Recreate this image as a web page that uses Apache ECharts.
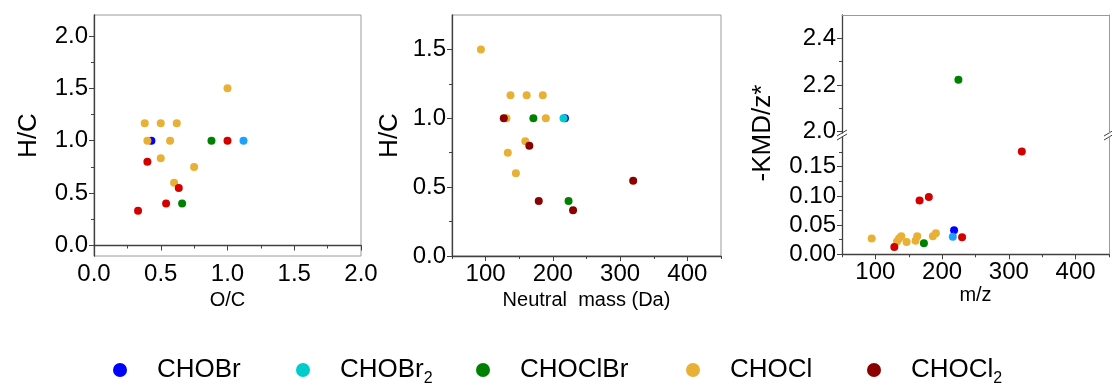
<!DOCTYPE html>
<html>
<head>
<meta charset="utf-8">
<script src="https://cdn.jsdelivr.net/npm/echarts@6/dist/echarts.min.js"></script>
<style>html,body{margin:0;padding:0;background:#fff}#c{width:1112px;height:385px}</style>
</head>
<body>
<div id="c"></div>
<script>
// ---- data ----
const groups = ['CHOBr', 'CHOBr2', 'CHOClBr', 'CHOCl', 'CHOCl2'];
const legendLabels = ['{n|CHOBr}', '{n|CHOBr}{s|2}', '{n|CHOClBr}', '{n|CHOCl}', '{n|CHOCl}{s|2}'];

// panel 1: O/C vs H/C
const vk_CHOBr   = [[0.43, 1.0]];
const vk_CHOBr2  = [[1.12, 1.0]];
const vk_CHOClBr = [[0.88, 1.0], [0.66, 0.40]];
const vk_CHOCl   = [[1.0, 1.5], [0.38, 1.167], [0.5, 1.167], [0.62, 1.167], [0.40, 1.0], [0.57, 1.0], [0.5, 0.833], [0.75, 0.75], [0.60, 0.60]];
const vk_CHOCl2  = [[1.0, 1.0], [0.40, 0.80], [0.635, 0.55], [0.54, 0.40], [0.33, 0.333]];

// panel 2: neutral mass vs H/C
const nm_CHOBr   = [[217.9, 1.0]];
const nm_CHOBr2  = [[215.8, 1.0]];
const nm_CHOClBr = [[171, 1.0], [223.3, 0.40]];
const nm_CHOCl   = [[93, 1.5], [137, 1.167], [161, 1.167], [185, 1.167], [131, 1.0], [189.5, 1.0], [159, 0.833], [133, 0.75], [145, 0.60]];
const nm_CHOCl2  = [[127, 1.0], [165, 0.80], [179, 0.40], [230, 0.333], [319.4, 0.546]];

// panel 3: m/z vs -KMD/z*
const km_CHOBr   = [[217.9, 0.041]];
const km_CHOBr2  = [[216, 0.030]];
const km_CHOClBr = [[172.7, 0.019], [224.4, 2.223]];
const km_CHOCl   = [[94.5, 0.027], [132.4, 0.022], [135.4, 0.027], [138.8, 0.031], [146.8, 0.021], [160.2, 0.023], [162.7, 0.031], [186.1, 0.031], [190.6, 0.036]];
const km_CHOCl2  = [[128.4, 0.0125], [166.2, 0.092], [180.1, 0.098], [229.9, 0.029], [319.4, 0.176]];

// tick values
const p1Ticks = [0, 0.5, 1.0, 1.5, 2.0];
const p1Minor = [0.25, 0.75, 1.25, 1.75];
const p2yTicks = [0, 0.5, 1.0, 1.5];
const p2yMinor = [0.25, 0.75, 1.25];
const massTicks = [100, 200, 300, 400];
const massMinor = [50, 150, 250, 350, 450];
const kmdUpperTicks = [2.0, 2.2, 2.4];
const kmdUpperMinor = [2.1, 2.3];
const kmdLowerTicks = [0, 0.05, 0.10, 0.15];
const kmdLowerMinor = [0.025, 0.075, 0.125, 0.175];

// ---- style ----
const colorsLegend = ['#0000ff', '#00cccc', '#008000', '#e8b035', '#8b0000'];
const colorsAlt    = ['#0000ff', '#1ea0ff', '#008000', '#e8b035', '#d40000'];
const FONT = 'Liberation Sans, Arial, sans-serif';
const AX = '#404040';
const BORDER = '#9a9a9a';
const labelStyle = {color: '#000', fontSize: 24, fontFamily: FONT};

const vk = [vk_CHOBr, vk_CHOBr2, vk_CHOClBr, vk_CHOCl, vk_CHOCl2];
const nm = [nm_CHOBr, nm_CHOBr2, nm_CHOClBr, nm_CHOCl, nm_CHOCl2];
const km = [km_CHOBr, km_CHOBr2, km_CHOClBr, km_CHOCl, km_CHOCl2];

const grid = [
  {left: 94, top: 15, width: 267, height: 241, show: true, borderColor: BORDER, borderWidth: 1},
  {left: 452, top: 15, width: 269, height: 241, show: true, borderColor: BORDER, borderWidth: 1},
  {left: 842, top: 15, width: 267, height: 118},
  {left: 842, top: 137, width: 267, height: 117.3}
];

const line = {show: true, lineStyle: {color: AX, width: 1.3}};
const borderLine = {show: true, lineStyle: {color: BORDER, width: 1}};
const tick = (len, vals) => ({show: true, inside: false, length: len, customValues: vals, lineStyle: {color: AX, width: 1}});
const nameX = {fontSize: 20, fontFamily: FONT, color: '#000'};
const nameY = {fontSize: 26, fontFamily: FONT, color: '#000'};
const fmt = d => (v => v.toFixed(d));

function mainX(grid, min, max, ticks, d, name, gap) {
  return {gridIndex: grid, type: 'value', position: 'bottom', min, max, axisLine: line, axisTick: tick(5, ticks),
    splitLine: {show: false}, axisLabel: Object.assign({margin: 6, customValues: ticks, formatter: fmt(d)}, labelStyle),
    name, nameLocation: 'middle', nameGap: gap, nameTextStyle: nameX};
}
function minorX(grid, min, max, ticks) {
  return {gridIndex: grid, type: 'value', position: 'bottom', min, max, axisLine: {show: false}, axisTick: tick(3, ticks),
    splitLine: {show: false}, axisLabel: {show: false}};
}
function mainY(grid, min, max, ticks, d, name, gap) {
  const a = {gridIndex: grid, type: 'value', position: 'left', min, max, axisLine: line, axisTick: tick(5, ticks),
    splitLine: {show: false}, axisLabel: Object.assign({margin: 6, customValues: ticks, formatter: fmt(d)}, labelStyle)};
  if (name) Object.assign(a, {name, nameLocation: 'middle', nameGap: gap, nameTextStyle: nameY});
  return a;
}
function minorY(grid, min, max, ticks) {
  return {gridIndex: grid, type: 'value', position: 'left', min, max, axisLine: {show: false}, axisTick: tick(3, ticks),
    splitLine: {show: false}, axisLabel: {show: false}};
}

const xAxis = [
  mainX(0, 0, 2, p1Ticks, 1, 'O/C', 28),                       // 0
  minorX(0, 0, 2, p1Minor),                                     // 1
  mainX(1, 50, 450, massTicks, 0, 'Neutral  mass (Da)', 28),   // 2
  minorX(1, 50, 450, massMinor),                                // 3
  {gridIndex: 2, type: 'value', position: 'top', min: 50, max: 450, axisLine: borderLine, axisTick: {show: false},
   splitLine: {show: false}, axisLabel: {show: false}},         // 4
  mainX(3, 50, 450, massTicks, 0, 'm/z', 29),                  // 5
  minorX(3, 50, 450, massMinor)                                 // 6
];

const yAxis = [
  mainY(0, -0.1, 2.2, p1Ticks, 1, 'H/C', 52),                  // 0
  minorY(0, -0.1, 2.2, p1Minor),                                // 1
  mainY(1, 0, 1.75, p2yTicks, 1, 'H/C', 49),                   // 2
  minorY(1, 0, 1.75, p2yMinor),                                 // 3
  mainY(2, 1.9944, 2.5, kmdUpperTicks, 1),                      // 4
  minorY(2, 1.9944, 2.5, kmdUpperMinor),                        // 5
  {gridIndex: 2, type: 'value', position: 'right', min: 1.9944, max: 2.5, axisLine: borderLine, axisTick: {show: false},
   splitLine: {show: false}, axisLabel: {show: false}},         // 6
  mainY(3, 0, 0.2009, kmdLowerTicks, 2),                        // 7
  minorY(3, 0, 0.2009, kmdLowerMinor),                          // 8
  {gridIndex: 3, type: 'value', position: 'right', min: 0, max: 0.2009, axisLine: borderLine, axisTick: {show: false},
   splitLine: {show: false}, axisLabel: {show: false}}          // 9
];

const series = [];
const sym = {type: 'scatter', symbol: 'circle', symbolSize: 8, silent: true};
const st = c => ({color: c, opacity: 1});
groups.forEach((g, i) => {
  series.push(Object.assign({}, sym, {name: g, xAxisIndex: 0, yAxisIndex: 0, data: vk[i], itemStyle: st(colorsAlt[i])}));
});
groups.forEach((g, i) => {
  series.push(Object.assign({}, sym, {name: g, xAxisIndex: 2, yAxisIndex: 2, data: nm[i], itemStyle: st(colorsLegend[i])}));
});
groups.forEach((g, i) => {
  series.push(Object.assign({}, sym, {name: g, xAxisIndex: 4, yAxisIndex: 4, data: km[i].filter(p => p[1] >= 1), itemStyle: st(colorsAlt[i])}));
  series.push(Object.assign({}, sym, {name: g, xAxisIndex: 5, yAxisIndex: 7, data: km[i].filter(p => p[1] < 1), itemStyle: st(colorsAlt[i])}));
});

const legendX = [108, 291, 471, 681, 862];
const legend = groups.map((g, i) => ({
  left: legendX[i], top: 352, orient: 'horizontal', selectedMode: false,
  icon: 'circle', itemWidth: 14, itemHeight: 14, itemGap: 0,
  data: [{name: g, itemStyle: {color: colorsLegend[i], opacity: 1}}],
  formatter: () => legendLabels[i],
  textStyle: {color: '#000', fontSize: 26, fontFamily: FONT,
    rich: {n: {fontSize: 26, fontFamily: FONT, color: '#000', padding: [0, 0, 0, 25]},
           s: {fontSize: 16, fontFamily: FONT, color: '#000', padding: [18, 0, 0, 0]}}}
}));

const brk = (x, y) => ({type: 'line', silent: true, shape: {x1: x - 5, y1: y + 3, x2: x + 5, y2: y - 3}, style: {stroke: AX, lineWidth: 1}});
const graphic = [
  brk(842, 133), brk(842, 137), brk(1109, 133), brk(1109, 137),
  {type: 'text', x: 763, y: 133, rotation: Math.PI / 2, silent: true,
   style: {text: '-KMD/z*', fontSize: 26, fontFamily: FONT, fill: '#000', align: 'center', verticalAlign: 'middle'}}
];

const chart = echarts.init(document.getElementById('c'), null, {renderer: 'canvas'});
chart.setOption({animation: false, backgroundColor: '#fff', grid, xAxis, yAxis, series, legend, graphic});
</script>
</body>
</html>
